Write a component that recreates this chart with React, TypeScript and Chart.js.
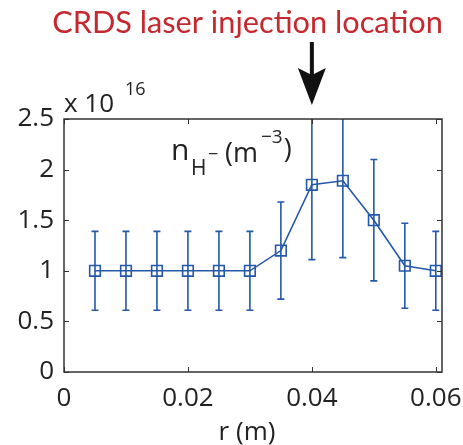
import React, { useEffect, useRef } from 'react';
import { Chart, registerables } from 'chart.js';

Chart.register(...registerables);

// ---- data ----
const radius = [0.005, 0.01, 0.015, 0.02, 0.025, 0.03, 0.035, 0.04, 0.045, 0.05, 0.055, 0.06];
const density = [1.0, 1.0, 1.0, 1.0, 1.0, 1.0, 1.2, 1.85, 1.89, 1.5, 1.05, 1.0];
const densityErr = [0.39, 0.39, 0.39, 0.39, 0.39, 0.39, 0.48, 0.74, 0.76, 0.6, 0.42, 0.39];
const xTicks = [0, 0.02, 0.04, 0.06];
const yTicks = [0, 0.5, 1, 1.5, 2, 2.5];
const xRange = [0, 0.061];
const yRange = [0, 2.5];
const arrowR = 0.04;
const titleText = 'CRDS laser injection location';
const xAxisTitle = 'r (m)';
const exponentBase = 'x 10';
const exponentPower = '16';

const FONT = '"Open Sans", "Noto Sans", sans-serif';
const TITLE_FONT = 'Lato, "Open Sans", sans-serif';
const BLUE = '#2458a8';
const RED = '#c5282f';
const AXIS = '#333333';
const TEXT = '#222222';

const decorPlugin = {
  id: 'decor',
  beforeDatasetsDraw(chart: any) {
    const { ctx, chartArea } = chart;
    const xs = chart.scales.x;
    const ys = chart.scales.y;
    ctx.save();
    ctx.beginPath();
    ctx.rect(chartArea.left, chartArea.top, chartArea.right - chartArea.left, chartArea.bottom - chartArea.top);
    ctx.clip();
    ctx.strokeStyle = BLUE;
    ctx.lineWidth = 1.6;
    for (let i = 0; i < radius.length; i++) {
      const x = xs.getPixelForValue(radius[i]);
      const yTop = ys.getPixelForValue(density[i] + densityErr[i]);
      const yBot = ys.getPixelForValue(density[i] - densityErr[i]);
      ctx.beginPath();
      ctx.moveTo(x, yTop);
      ctx.lineTo(x, yBot);
      ctx.moveTo(x - 3.5, yTop);
      ctx.lineTo(x + 3.5, yTop);
      ctx.moveTo(x - 3.5, yBot);
      ctx.lineTo(x + 3.5, yBot);
      ctx.stroke();
    }
    ctx.restore();
  },
  afterDraw(chart: any) {
    const { ctx, chartArea } = chart;
    const xs = chart.scales.x;
    const ys = chart.scales.y;
    const { left, right, top, bottom } = chartArea;
    ctx.save();
    // box
    ctx.strokeStyle = AXIS;
    ctx.lineWidth = 1.5;
    ctx.strokeRect(left, top, right - left, bottom - top);
    // inward ticks
    ctx.lineWidth = 1;
    const tl = 5;
    ctx.beginPath();
    for (const v of xTicks) {
      const x = Math.round(xs.getPixelForValue(v)) + 0.5;
      ctx.moveTo(x, bottom);
      ctx.lineTo(x, bottom - tl);
      ctx.moveTo(x, top);
      ctx.lineTo(x, top + tl);
    }
    for (const v of yTicks) {
      const y = Math.round(ys.getPixelForValue(v)) + 0.5;
      ctx.moveTo(left, y);
      ctx.lineTo(left + tl, y);
      ctx.moveTo(right, y);
      ctx.lineTo(right - tl, y);
    }
    ctx.stroke();

    // title
    ctx.fillStyle = RED;
    ctx.textAlign = 'center';
    ctx.textBaseline = 'alphabetic';
    ctx.font = `29px ${TITLE_FONT}`;
    const w = ctx.measureText(titleText).width;
    const size = 29 * 391 / w;
    ctx.font = `${size}px ${TITLE_FONT}`;
    ctx.fillText(titleText, 247.5, 33);

    // arrow
    const ax = xs.getPixelForValue(arrowR);
    ctx.fillStyle = '#111111';
    ctx.fillRect(ax - 2, top - 77, 4, 40);
    ctx.beginPath();
    ctx.moveTo(ax, top - 14);
    ctx.lineTo(ax - 14, top - 51);
    ctx.lineTo(ax, top - 44);
    ctx.lineTo(ax + 14, top - 51);
    ctx.closePath();
    ctx.fill();

    // exponent label
    ctx.fillStyle = TEXT;
    ctx.textAlign = 'left';
    ctx.font = `26px ${FONT}`;
    ctx.fillText(exponentBase, left, top - 7);
    ctx.font = `18px ${FONT}`;
    ctx.fillText(exponentPower, left + 61, top - 24);

    // inner label n_{H^-} (m^{-3})
    ctx.font = `30px ${FONT}`;
    ctx.fillText('n', 171, 160);
    ctx.font = `21px ${FONT}`;
    ctx.fillText('H', 191, 175);
    ctx.font = `18px ${FONT}`;
    ctx.fillText('\u2212', 208, 160);
    ctx.font = `27px ${FONT}`;
    ctx.fillText('(m', 225, 162);
    const pm = ctx.measureText('(m').width;
    ctx.font = `19px ${FONT}`;
    ctx.fillText('\u22123', 225 + pm + 3, 143);
    const p3 = ctx.measureText('\u22123').width;
    ctx.font = `27px ${FONT}`;
    ctx.fillText(')', 225 + pm + 3 + p3 + 1, 158);

    // x-axis title
    ctx.textAlign = 'center';
    ctx.font = `26px ${FONT}`;
    ctx.fillText(xAxisTitle, 247, 440);
    ctx.restore();
  },
};

export default function App() {
  const ref = useRef<HTMLCanvasElement | null>(null);
  useEffect(() => {
    if (!ref.current) return;
    const chart = new Chart(ref.current, {
      type: 'line',
      data: {
        datasets: [
          {
            data: radius.map((r, i) => ({ x: r, y: density[i] })),
            borderColor: BLUE,
            borderWidth: 1.6,
            pointStyle: 'rect',
            pointRadius: 7.5,
            pointBorderWidth: 1.6,
            pointBorderColor: BLUE,
            pointBackgroundColor: 'rgba(0,0,0,0)',
            fill: false,
            tension: 0,
          },
        ],
      },
      options: {
        animation: false,
        responsive: false,
        maintainAspectRatio: false,
        devicePixelRatio: 1,
        layout: { padding: { top: 119, right: 21, left: 0, bottom: 0 } },
        plugins: { legend: { display: false }, tooltip: { enabled: false }, title: { display: false } },
        scales: {
          x: {
            type: 'linear',
            min: xRange[0],
            max: xRange[1],
            afterBuildTicks: (s: any) => {
              s.ticks = xTicks.map((v) => ({ value: v }));
            },
            afterFit: (s: any) => {
              s.height = 73;
              s.paddingLeft = 0;
              s.paddingRight = 0;
            },
            grid: { display: false, drawTicks: false },
            border: { display: false },
            ticks: {
              padding: 11,
              color: TEXT,
              font: { family: FONT, size: 26 },
              maxRotation: 0,
              autoSkip: false,
              callback: (v: any) => String(v),
            },
          },
          y: {
            type: 'linear',
            min: yRange[0],
            max: yRange[1],
            afterBuildTicks: (s: any) => {
              s.ticks = yTicks.map((v) => ({ value: v }));
            },
            afterFit: (s: any) => {
              s.width = 64;
              s.paddingTop = 0;
              s.paddingBottom = 0;
            },
            grid: { display: false, drawTicks: false },
            border: { display: false },
            ticks: {
              padding: 10,
              color: TEXT,
              font: { family: FONT, size: 26 },
              autoSkip: false,
              callback: (v: any) => String(v),
            },
          },
        },
      },
      plugins: [decorPlugin],
    });
    return () => chart.destroy();
  }, []);
  return (
    <div style={{ position: 'fixed', left: 0, top: 0, width: 463, height: 445, background: '#fff' }}>
      <canvas ref={ref} width={463} height={445} style={{ width: 463, height: 445 }} />
    </div>
  );
}
